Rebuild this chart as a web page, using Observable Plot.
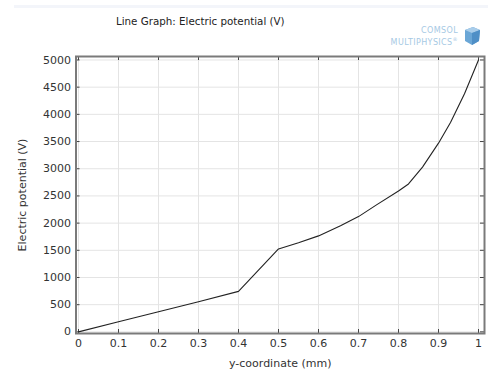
<!DOCTYPE html>
<html>
<head>
<meta charset="utf-8">
<script src="https://cdn.jsdelivr.net/npm/d3@7"></script>
<script src="https://cdn.jsdelivr.net/npm/@observablehq/plot@0.6"></script>
<style>
  html, body { margin: 0; padding: 0; background: #fff; }
  #wrap { position: relative; width: 488px; height: 376px; overflow: hidden; font-family: "DejaVu Sans", sans-serif; }
  #strip { position: absolute; left: 14px; right: 0; top: 5px; height: 3px; background: #f3f5fa; }
  #title { position: absolute; left: 116px; top: 15px; font-size: 10.3px; color: #222; white-space: nowrap; }
  #logo { position: absolute; right: 30px; top: 26px; font-size: 8px; line-height: 9px; color: #a6c9e4; text-align: right; letter-spacing: 0.4px; }
  #cube { position: absolute; left: 462px; top: 26px; }
  #chart { position: absolute; left: 0; top: 0; }
</style>
</head>
<body>
<div id="wrap">
  <div id="strip"></div>
  <div id="title">Line Graph: Electric potential (V)</div>
  <div id="logo">COMSOL<br>MULTIPHYSICS<sup style="font-size:5px">®</sup></div>
  <svg id="cube" width="20" height="20" viewBox="0 0 20 20">
    <polygon points="3,4 11,1 18,4 17,15 10,19 3,15" fill="#6aa6d6"/>
    <polygon points="3,4 11,1 18,4 10,7" fill="#a9cdea"/>
    <polygon points="10,7 18,4 17,15 10,19" fill="#4f8fc6"/>
  </svg>
  <div id="chart"></div>
</div>
<script>
// Data
const yCoord = [0, 0.1, 0.2, 0.3, 0.4, 0.5, 0.55, 0.6, 0.655, 0.7, 0.745, 0.8, 0.825, 0.86, 0.9, 0.93, 0.965, 1.0];
const potential = [0, 185, 370, 555, 745, 1525, 1640, 1765, 1950, 2120, 2335, 2590, 2720, 3030, 3470, 3850, 4380, 5000];
const xTicks = [0, 0.1, 0.2, 0.3, 0.4, 0.5, 0.6, 0.7, 0.8, 0.9, 1];
const yTicks = [0, 500, 1000, 1500, 2000, 2500, 3000, 3500, 4000, 4500, 5000];
const xTickLabels = ["0", "0.1", "0.2", "0.3", "0.4", "0.5", "0.6", "0.7", "0.8", "0.9", "1"];

const rows = yCoord.map((x, i) => ({x, v: potential[i]}));

const W = 488, H = 376;
const mL = 75.5, mR = 4, mT = 56, mB = 43;
const frameH = H - mT - mB;
const frameW = W - mL - mR;
const tickLen = 4;

const chart = Plot.plot({
  width: W,
  height: H,
  marginLeft: mL,
  marginRight: mR,
  marginTop: mT,
  marginBottom: mB,
  style: {fontFamily: "DejaVu Sans, sans-serif", fontSize: "11px", color: "#333", background: "transparent"},
  x: {domain: [-0.00625, 1.015]},
  y: {domain: [-30, 5064]},
  marks: [
    Plot.gridX(xTicks, {stroke: "#e4e4e4", strokeOpacity: 1}),
    Plot.gridY(yTicks, {stroke: "#e4e4e4", strokeOpacity: 1}),
    Plot.tickX(xTicks, {x: d => d, insetTop: frameH - tickLen, stroke: "#444"}),
    Plot.tickX(xTicks, {x: d => d, insetBottom: frameH - tickLen, stroke: "#444"}),
    Plot.tickY(yTicks, {y: d => d, insetRight: frameW - tickLen, stroke: "#444"}),
    Plot.tickY(yTicks, {y: d => d, insetLeft: frameW - tickLen, stroke: "#444"}),
    Plot.axisX(xTicks, {anchor: "bottom", tickSize: 0, tickPadding: 6, tickFormat: (d, i) => xTickLabels[i],
      label: "y-coordinate (mm)", labelAnchor: "center", labelArrow: "none", labelOffset: 33, fill: "#333"}),
    Plot.axisY(yTicks, {anchor: "left", tickSize: 0, tickPadding: 5, tickFormat: d => String(d),
      label: "Electric potential (V)", labelAnchor: "center", labelArrow: "none", labelOffset: 58, fill: "#333"}),
    Plot.line(rows, {x: "x", y: "v", stroke: "#222", strokeWidth: 1.1}),
    Plot.frame({stroke: "#7a7a7a", strokeWidth: 2})
  ]
});
document.getElementById("chart").appendChild(chart);
</script>
</body>
</html>
